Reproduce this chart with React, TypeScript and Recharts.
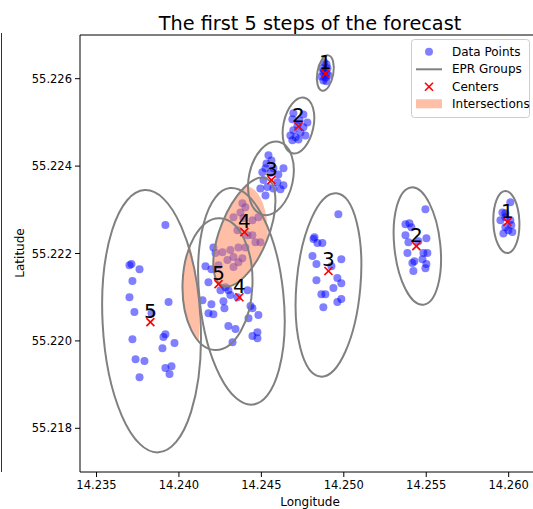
import { ScatterChart, Scatter, XAxis, YAxis, ReferenceLine } from 'recharts';

// axis ranges / ticks
const X_MIN = 14.234;
const X_MAX = 14.2619;
const Y_MIN = 55.217;
const Y_MAX = 55.227;
const xTicks = [14.235, 14.24, 14.245, 14.25, 14.255, 14.26];
const yTicks = [55.218, 55.22, 55.222, 55.224, 55.226];

const steps = ['1', '2', '3', '4', '5'];

// forecast centers, two tracks (lon, lat)
const centersNorth = [
  [14.24888, 55.22612],
  [14.24725, 55.22491],
  [14.24561, 55.22368],
  [14.24397, 55.22249],
  [14.2424, 55.2213],
];
const centersEast = [
  [14.25992, 55.22272],
  [14.2544, 55.22217],
  [14.24907, 55.2216],
  [14.24367, 55.221],
  [14.23827, 55.22043],
];

// EPR group ellipses: lon, lat, width (deg lon), height (deg lat), tilt (deg)
const groupsNorth = [
  [14.24888, 55.22613, 0.00097, 0.00082, 10],
  [14.24725, 55.22493, 0.00182, 0.0013, 12],
  [14.24558, 55.22372, 0.00267, 0.00171, 12],
  [14.24397, 55.22249, 0.00291, 0.00265, 22],
  [14.24234, 55.2213, 0.00424, 0.00302, 2],
];
const groupsEast = [
  [14.25986, 55.22272, 0.00158, 0.00142, -2],
  [14.25446, 55.22217, 0.00279, 0.0027, -6],
  [14.24907, 55.22128, 0.00388, 0.00421, 5],
  [14.24379, 55.22102, 0.00509, 0.00498, -6],
  [14.23834, 55.22045, 0.00594, 0.00601, -3],
];

// steps whose two groups overlap
const overlapSteps = [3, 4];

// observed points per cluster
const ptsN1 = [
  [14.24882, 55.22637], [14.24895, 55.22633], [14.2487, 55.22624], [14.24901, 55.22624],
  [14.24876, 55.22614], [14.24895, 55.22612], [14.24864, 55.22605], [14.24888, 55.22603],
  [14.24907, 55.22608], [14.24876, 55.22596], [14.24895, 55.22594], [14.24882, 55.22619],
];
const ptsN2 = [
  [14.24694, 55.22521], [14.24755, 55.22518], [14.24688, 55.22507], [14.24731, 55.22505],
  [14.24779, 55.225], [14.24719, 55.22493], [14.24755, 55.22489], [14.24694, 55.22482],
  [14.24737, 55.22477], [14.24676, 55.2247], [14.24707, 55.22466], [14.24767, 55.2247],
  [14.24688, 55.22459], [14.24725, 55.22461],
];
const ptsN3 = [
  [14.24543, 55.22425], [14.24561, 55.22413], [14.24531, 55.22406], [14.24525, 55.22395],
  [14.24573, 55.22395], [14.24634, 55.22395], [14.24506, 55.22386], [14.24555, 55.22384],
  [14.24603, 55.22381], [14.24513, 55.22368], [14.24597, 55.22363], [14.24634, 55.22356],
  [14.24494, 55.22349], [14.24537, 55.22352], [14.24573, 55.22349], [14.24616, 55.22347],
  [14.24525, 55.22333],
];
const ptsN4 = [
  [14.24385, 55.22315], [14.24403, 55.22306], [14.24373, 55.22294], [14.24331, 55.22283],
  [14.24391, 55.22281], [14.24446, 55.22276], [14.24482, 55.22283], [14.24355, 55.22253],
  [14.24416, 55.22242], [14.24446, 55.22242], [14.24464, 55.22226], [14.24494, 55.22226],
  [14.24403, 55.22214], [14.24361, 55.22214], [14.24312, 55.22208], [14.24264, 55.22203],
  [14.24331, 55.22192], [14.24385, 55.22189], [14.24294, 55.22185], [14.24361, 55.2218],
];
const ptsN5 = [
  [14.24209, 55.22214], [14.24222, 55.22201], [14.24161, 55.22171], [14.24197, 55.22164],
  [14.2424, 55.22173], [14.24331, 55.22169], [14.24179, 55.22134], [14.24252, 55.22116],
  [14.24143, 55.22093], [14.24197, 55.22084], [14.2427, 55.22091], [14.24179, 55.22063],
  [14.24209, 55.22061], [14.24276, 55.22075],
];
const ptsE1 = [
  [14.2601, 55.22317], [14.25962, 55.22294], [14.2595, 55.22276], [14.2598, 55.22283],
  [14.2601, 55.22276], [14.2598, 55.2226], [14.26022, 55.22249], [14.25968, 55.22246],
  [14.25998, 55.22253], [14.2598, 55.22292], [14.26016, 55.22265],
];
const ptsE2 = [
  [14.25495, 55.22301], [14.25374, 55.22267], [14.25398, 55.22269], [14.2541, 55.2226],
  [14.25374, 55.22242], [14.25392, 55.22226], [14.25501, 55.22235], [14.25452, 55.22228],
  [14.25386, 55.22201], [14.25483, 55.22201], [14.25507, 55.22201], [14.25428, 55.22182],
  [14.25477, 55.22187], [14.25416, 55.22178], [14.25501, 55.22176], [14.25495, 55.22166],
  [14.25422, 55.2216],
];
const ptsE3 = [
  [14.24967, 55.2229], [14.24822, 55.22237], [14.24816, 55.22233], [14.2484, 55.22224],
  [14.2487, 55.22224], [14.2481, 55.22194], [14.24834, 55.22176], [14.24985, 55.22187],
  [14.24925, 55.22171], [14.24834, 55.22139], [14.24961, 55.22144], [14.24985, 55.22132],
  [14.24937, 55.22121], [14.24864, 55.22107], [14.24888, 55.22107], [14.24961, 55.22089],
  [14.24985, 55.22096], [14.24876, 55.22077],
];
const ptsE4 = [
  [14.24282, 55.22123], [14.24312, 55.22105], [14.24355, 55.221], [14.243, 55.22116],
  [14.24416, 55.22116], [14.24434, 55.2208], [14.24446, 55.22075], [14.24482, 55.22059],
  [14.24422, 55.22052], [14.243, 55.22034], [14.24343, 55.22027], [14.24476, 55.2202],
  [14.24446, 55.22011], [14.24476, 55.22006], [14.24325, 55.21997],
];
const ptsE5 = [
  [14.23918, 55.22265], [14.237, 55.22173], [14.23712, 55.22176], [14.23761, 55.22164],
  [14.23718, 55.22137], [14.237, 55.221], [14.2373, 55.22066], [14.23937, 55.22089],
  [14.23834, 55.22063], [14.23718, 55.22004], [14.23918, 55.22015], [14.23906, 55.22009],
  [14.23973, 55.21995], [14.239, 55.21983], [14.23737, 55.21958], [14.23791, 55.21954],
  [14.23918, 55.21938], [14.23955, 55.21942], [14.23943, 55.21924], [14.23761, 55.21917],
];

const legendNames = ['Data Points', 'EPR Groups', 'Centers', 'Intersections'];

// layout
const CHART_W = 540;
const CHART_H = 509;
const TOP = 35;
const Y_AXIS_W = 80;
const X_AXIS_H = 37;
const KX = (CHART_W - Y_AXIS_W) / (X_MAX - X_MIN);
const KY = (CHART_H - TOP - X_AXIS_H) / (Y_MAX - Y_MIN);

const FONT = 'DejaVu Sans';
const BLUE = '#0000ff';
const SALMON = '#ff7f50';

const toPoint = (p: number[]) => ({ lon: p[0], lat: p[1] });
const toGroup = (g: number[]) => ({ lon: g[0], lat: g[1], w: g[2], h: g[3], tilt: g[4] });

const points = [ptsN1, ptsN2, ptsN3, ptsN4, ptsN5, ptsE1, ptsE2, ptsE3, ptsE4, ptsE5].flat().map(toPoint);
const groups = [...groupsNorth, ...groupsEast].map(toGroup);
const centers = [
  ...centersNorth.map((c, i) => ({ ...toPoint(c), step: steps[i] })),
  ...centersEast.map((c, i) => ({ ...toPoint(c), step: steps[i] })),
];
const overlaps = overlapSteps.map((s) => ({
  ...toGroup(groupsNorth[s]),
  other: toGroup(groupsEast[s]),
  id: 'clip' + s,
}));

const Dot = (props: any) => <circle cx={props.cx} cy={props.cy} r={4} fill={BLUE} fillOpacity={0.5} />;

const GroupShape = (props: any) => {
  const { cx, cy, payload } = props;
  return (
    <ellipse
      cx={cx}
      cy={cy}
      rx={(payload.w / 2) * KX}
      ry={(payload.h / 2) * KY}
      transform={`rotate(${payload.tilt} ${cx} ${cy})`}
      fill="none"
      stroke="#808080"
      strokeWidth={2}
    />
  );
};

const OverlapShape = (props: any) => {
  const { cx, cy, payload } = props;
  const o = payload.other;
  const ox = cx + (o.lon - payload.lon) * KX;
  const oy = cy - (o.lat - payload.lat) * KY;
  return (
    <g>
      <defs>
        <clipPath id={payload.id}>
          <ellipse cx={ox} cy={oy} rx={(o.w / 2) * KX} ry={(o.h / 2) * KY} transform={`rotate(${o.tilt} ${ox} ${oy})`} />
        </clipPath>
      </defs>
      <ellipse
        cx={cx}
        cy={cy}
        rx={(payload.w / 2) * KX}
        ry={(payload.h / 2) * KY}
        transform={`rotate(${payload.tilt} ${cx} ${cy})`}
        fill={SALMON}
        fillOpacity={0.5}
        clipPath={`url(#${payload.id})`}
      />
    </g>
  );
};

const Cross = ({ x, y }: { x: number; y: number }) => (
  <g stroke="red" strokeWidth={1.6}>
    <line x1={x - 4} y1={y - 4} x2={x + 4} y2={y + 4} />
    <line x1={x - 4} y1={y + 4} x2={x + 4} y2={y - 4} />
  </g>
);

const CenterShape = (props: any) => (
  <g>
    <Cross x={props.cx} y={props.cy} />
    <text x={props.cx} y={props.cy - 4.5} textAnchor="middle" fontSize={20} fontFamily={FONT} fill="#000">
      {props.payload.step}
    </text>
  </g>
);

const tickStyle = { fontSize: 11.5, fontFamily: FONT, fill: '#000' };

export default function App() {
  return (
    <div style={{ position: 'absolute', left: 0, top: 0, width: 533, height: 509, overflow: 'hidden', background: '#fff' }}>
      <ScatterChart width={CHART_W} height={CHART_H} margin={{ top: TOP, right: 0, bottom: 0, left: 0 }}>
        <XAxis
          type="number"
          dataKey="lon"
          domain={[X_MIN, X_MAX]}
          ticks={xTicks}
          tickFormatter={(v: number) => v.toFixed(3)}
          height={X_AXIS_H}
          tick={tickStyle}
          tickSize={5}
          tickMargin={4}
          stroke="#000"
          allowDataOverflow
          label={{ value: 'Longitude', position: 'insideBottom', offset: 3, fill: '#000', fontSize: 12, fontFamily: FONT }}
        />
        <YAxis
          type="number"
          dataKey="lat"
          domain={[Y_MIN, Y_MAX]}
          ticks={yTicks}
          tickFormatter={(v: number) => v.toFixed(3)}
          width={Y_AXIS_W}
          tick={tickStyle}
          tickSize={5}
          tickMargin={3}
          stroke="#000"
          allowDataOverflow
        />
        <ReferenceLine y={Y_MAX} stroke="#000" />
        <Scatter name="Data Points" data={points} shape={Dot} isAnimationActive={false} />
        <Scatter name="Intersections" data={overlaps} shape={OverlapShape} isAnimationActive={false} />
        <Scatter name="EPR Groups" data={groups} shape={GroupShape} isAnimationActive={false} />
        <Scatter name="Centers" data={centers} shape={CenterShape} isAnimationActive={false} />
      </ScatterChart>
      <svg width={533} height={509} style={{ position: 'absolute', left: 0, top: 0, pointerEvents: 'none' }}>
        <line x1={1.5} y1={33} x2={1.5} y2={472} stroke="#333" strokeWidth={1} />
        <text x={310} y={29.5} textAnchor="middle" fontSize={19.3} fontFamily={FONT} fill="#000">
          The first 5 steps of the forecast
        </text>
        <text x={20} y={253} transform="rotate(-90 20 253)" textAnchor="middle" dominantBaseline="central" fontSize={12} fontFamily={FONT} fill="#000">
          Latitude
        </text>
        <rect x={411.5} y={39.5} width={118} height={78} rx={3} fill="#fff" fillOpacity={0.8} stroke="#cccccc" />
        <circle cx={429} cy={51.7} r={4} fill={BLUE} fillOpacity={0.5} />
        <line x1={416} y1={69.3} x2={442} y2={69.3} stroke="#808080" strokeWidth={2} />
        <Cross x={429} y={86.7} />
        <rect x={416} y={99.3} width={26} height={9} fill={SALMON} fillOpacity={0.5} />
        {legendNames.map((n, i) => (
          <text key={n} x={452} y={56.1 + i * 17.2} fontSize={12} fontFamily={FONT} fill="#000">
            {n}
          </text>
        ))}
      </svg>
    </div>
  );
}
